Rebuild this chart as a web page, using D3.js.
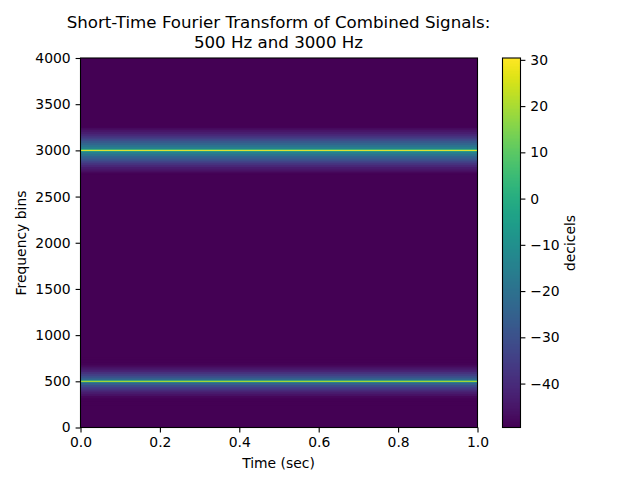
<!DOCTYPE html>
<html>
<head>
<meta charset="utf-8">
<script src="https://cdn.jsdelivr.net/npm/d3@7"></script>
<style>
body { margin: 0; background: #fff; }
text { font-family: "DejaVu Sans", sans-serif; fill: #000; }
</style>
</head>
<body>
<div id="vis"></div>
<script>
const titleLines = ["Short-Time Fourier Transform of Combined Signals:", "500 Hz and 3000 Hz"];
const timeTicks = [0, 0.2, 0.4, 0.6, 0.8, 1];
const freqTicks = [0, 500, 1000, 1500, 2000, 2500, 3000, 3500, 4000];
const dbTicks = [-40, -30, -20, -10, 0, 10, 20, 30];

// tones and how the level falls away from them (Hz from the tone, dB)
const floorDb = -49.5;
const tones = [500, 3000];
const offsets = [5, 11, 20, 40, 60, 80, 100, 120, 140, 160, 180, 200, 220, 240, 260];
const tone500Db = [24, -2, -20, -26, -31, -35, -38, -42, -44, -46, -48, -49, -49.5, -49.5, -49.5];
const tone3000Db = [30.2, 5, -12, -16, -20, -24, -27, -31, -35, -38, -41, -43, -45, -47, -49];

const svg = d3.select("#vis")
    .append("svg")
    .attr("width", 640)
    .attr("height", 480);

const x = d3.scaleLinear().domain([0, 1]).range([80.5, 477.5]);
const y = d3.scaleLinear().domain([0, 4000]).range([427.5, 58]);
const colorY = d3.scaleLinear().domain([floorDb, 30.4]).range([427.5, 58]);
const color = d3.scaleSequential(d3.interpolateViridis).domain([floorDb, 30.4]);

// rows nested around each tone, widest painted first so no seams show
const rows = [];
[tone500Db, tone3000Db].forEach(function (levels, t) {
    offsets.forEach(function (off, i) {
        rows.push({ f: tones[t], off: off, db: levels[i] });
    });
});
rows.sort((a, b) => b.off - a.off);

const plot = svg.append("g");

plot.append("rect")
    .attr("x", x(0))
    .attr("y", y(4000))
    .attr("width", x(1) - x(0))
    .attr("height", y(0) - y(4000))
    .attr("fill", color(floorDb));

plot.selectAll("rect.bin")
    .data(rows)
    .enter()
    .append("rect")
    .attr("class", "bin")
    .attr("x", x(0))
    .attr("width", x(1) - x(0))
    .attr("y", d => y(d.f + d.off))
    .attr("height", d => y(d.f - d.off) - y(d.f + d.off))
    .attr("fill", d => color(d.db));

plot.append("rect")
    .attr("x", x(0))
    .attr("y", y(4000))
    .attr("width", x(1) - x(0))
    .attr("height", y(0) - y(4000))
    .attr("fill", "none")
    .attr("stroke", "#000")
    .attr("stroke-width", 1.1);

function styleAxis(g) {
    g.select(".domain").remove();
    g.selectAll(".tick line").attr("stroke", "#000").attr("stroke-width", 1.1);
    g.selectAll(".tick text").attr("font-size", 13.9).style("font-family", '"DejaVu Sans", sans-serif');
}

svg.append("g")
    .attr("transform", "translate(0,427.5)")
    .call(d3.axisBottom(x).tickValues(timeTicks).tickSize(4.9).tickPadding(4.9).tickFormat(d3.format(".1f")))
    .call(styleAxis);

svg.append("g")
    .attr("transform", "translate(80.5,0)")
    .call(d3.axisLeft(y).tickValues(freqTicks).tickSize(4.9).tickPadding(4.9).tickFormat(d3.format("d")))
    .call(styleAxis);

// colorbar
const barSteps = d3.range(0, 256).map(i => floorDb + (30.4 - floorDb) * i / 256);
const barStep = (30.4 - floorDb) / 256;
const bar = svg.append("g");

bar.selectAll("rect")
    .data(barSteps)
    .enter()
    .append("rect")
    .attr("shape-rendering", "crispEdges")
    .attr("x", 502.5)
    .attr("width", 18)
    .attr("y", d => colorY(d + barStep))
    .attr("height", d => colorY(d) - colorY(d + barStep) + 0.5)
    .attr("fill", d => color(d + barStep / 2));

bar.append("rect")
    .attr("x", 502.5)
    .attr("y", colorY(30.4))
    .attr("width", 18)
    .attr("height", colorY(floorDb) - colorY(30.4))
    .attr("fill", "none")
    .attr("stroke", "#000")
    .attr("stroke-width", 1.1);

svg.append("g")
    .attr("transform", "translate(520.5,0)")
    .call(d3.axisRight(colorY).tickValues(dbTicks).tickSize(4.9).tickPadding(4.9).tickFormat(d => d < 0 ? "\u2212" + Math.abs(d) : d))
    .call(styleAxis);

// labels
svg.selectAll("text.title")
    .data(titleLines)
    .enter()
    .append("text")
    .attr("class", "title")
    .attr("x", 278.5)
    .attr("y", (d, i) => 28 + i * 20)
    .attr("text-anchor", "middle")
    .attr("font-size", 16.67)
    .text(d => d);

svg.append("text")
    .attr("x", 278.5)
    .attr("y", 468)
    .attr("text-anchor", "middle")
    .attr("font-size", 13.9)
    .text("Time (sec)");

svg.append("text")
    .attr("transform", "translate(26,243) rotate(-90)")
    .attr("text-anchor", "middle")
    .attr("font-size", 13.9)
    .text("Frequency bins");

svg.append("text")
    .attr("transform", "translate(575,243) rotate(-90)")
    .attr("text-anchor", "middle")
    .attr("font-size", 13.9)
    .text("decicels");
</script>
</body>
</html>
